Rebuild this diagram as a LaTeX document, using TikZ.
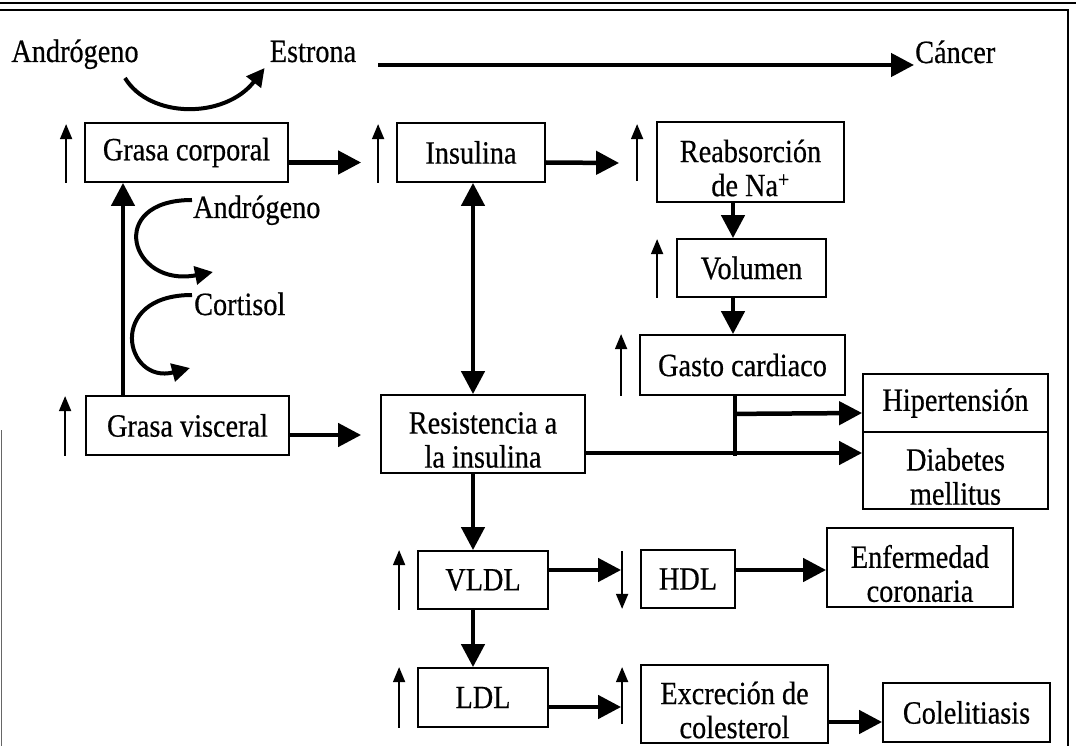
\documentclass[tikz,border=0pt]{standalone}
\usepackage{fontspec}
\setmainfont{Liberation Serif}[FakeStretch=0.87,FakeBold=0.5]
\usetikzlibrary{arrows.meta,calc}
\begin{document}
\begin{tikzpicture}[x=1pt,y=-1pt,
  txt/.style={font=\fontsize{32.5}{34}\selectfont, inner sep=1pt},
  box/.style={draw, line width=1.8pt, inner sep=0pt},
  big/.style={line width=4.5pt, -{Triangle[length=23pt,width=23pt]}},
  bigboth/.style={line width=4.5pt, {Triangle[length=23pt,width=23pt]}-{Triangle[length=23pt,width=23pt]}},
  ind/.style={line width=1.8pt, -{Triangle[length=15pt,width=12pt]}},
  curv/.style={line width=4pt, -{Triangle[length=18pt,width=18pt]}},
  brd/.style={line width=2pt}]
\useasboundingbox (0,0) rectangle (1076,746);
% frame
\draw[line width=1.4pt] (0,3) -- (1076,3);
\draw[brd] (0,10) -- (1068,10) -- (1068,746);
\draw[line width=1pt, black!60] (1,430) -- (1,746);

% top row texts
\node[txt, anchor=base] (andr1) at (75,62) {Andrógeno};
\node[txt, anchor=base] (estr) at (313,62) {Estrona};
\node[txt, anchor=base west] (canc) at (914,63) {Cáncer};
\draw[curv] ($(andr1.base)+(50,16)$) .. controls (150,119) and (225,119) .. ($(estr.base west)+(-4,6)$);
\draw[big] ($(estr.base east)+(21,3)$) -- ($(canc.base west)+(0,2)$);

% single-line boxes
\node[box,txt,minimum width=203pt,minimum height=59pt] (gc) at (186.5,152.5) {Grasa corporal};
\node[box,txt,minimum width=148pt,minimum height=59pt] (ins) at (471,152.5) {Insulina};
\node[box,txt,minimum width=149pt,minimum height=58pt] (vol) at (751.5,268) {Volumen};
\node[box,txt,minimum width=205pt,minimum height=60pt] (gca) at (742.5,365) {Gasto cardiaco};
\node[box,txt,minimum width=185pt,minimum height=58pt] (hip) at (955.5,403) {Hipertensión};
\node[box,txt,minimum width=203pt,minimum height=59pt] (gv) at (187.5,425.5) {Grasa visceral};
\node[box,txt,minimum width=130pt,minimum height=58pt] (vldl) at (483,580) {VLDL};
\node[box,txt,minimum width=130pt,minimum height=59pt] (ldl) at (483,697.5) {LDL};
\node[box,txt,minimum width=94pt,minimum height=58pt] (hdl) at (688,579) {HDL};
\node[box,txt,minimum width=167pt,minimum height=59pt] (col) at (966.5,712.5) {Colelitiasis};

% two-line boxes
\node[box,minimum width=187pt,minimum height=80pt] (rea) at (750.5,162) {};
\node[txt,align=center] (reat) at ($(rea)+(0,6)$) {Reabsorción\\de Na\textsuperscript{+}};
\node[box,minimum width=204pt,minimum height=78pt] (res) at (483,434) {};
\node[txt,align=center] (rest) at ($(res)+(0,6)$) {Resistencia a\\la insulina};
\node[box,minimum width=185pt,minimum height=77pt] (dia) at (955.5,470.5) {};
\node[txt,align=center] (diat) at ($(dia)+(0,6)$) {Diabetes\\mellitus};
\node[box,minimum width=186pt,minimum height=79pt] (enf) at (920,567.5) {};
\node[txt,align=center] (enft) at ($(enf)+(0,6)$) {Enfermedad\\coronaria};
\node[box,minimum width=187pt,minimum height=78pt] (exc) at (734.5,704) {};
\node[txt,align=center] (exct) at ($(exc)+(0,6)$) {Excreción de\\colesterol};

% cortisol / androgeno side labels
\node[txt, anchor=base west] (andr2) at (192,218) {Andrógeno};
\node[txt, anchor=base west] (cort) at (193,315) {Cortisol};
\coordinate (a2e) at (213,272);
\coordinate (coe) at (190,368);
\draw[curv] ($(andr2.base west)+(0,-18)$) .. controls (105,200) and (130,288) .. (a2e);
\draw[curv] ($(cort.base west)+(-1,-20)$) .. controls (105,295) and (125,385) .. (coe);

% indicator arrows
\draw[ind] ($(gc.south west)+(-18,0)$) -- ($(gc.north west)+(-18,2)$);
\draw[ind] ($(ins.south west)+(-18,0)$) -- ($(ins.north west)+(-18,2)$);
\draw[ind] ($(rea.north west)+(-19,60)$) -- ($(rea.north west)+(-19,3)$);
\draw[ind] ($(vol.south west)+(-19,0)$) -- ($(vol.north west)+(-19,1)$);
\draw[ind] ($(gca.south west)+(-18,0)$) -- ($(gca.north west)+(-18,0)$);
\draw[ind] ($(gv.south west)+(-20,0)$) -- ($(gv.north west)+(-20,1)$);
\draw[ind] ($(vldl.south west)+(-18,0)$) -- ($(vldl.north west)+(-18,0)$);
\draw[ind] ($(ldl.south west)+(-18,0)$) -- ($(ldl.north west)+(-18,0)$);
\draw[ind] ($(hdl.north west)+(-18,2)$) -- ($(hdl.south west)+(-18,0)$);
\draw[ind] ($(exc.north west)+(-18,60)$) -- ($(exc.north west)+(-18,3)$);

% main connectors
\draw[big] ($(gc.east)+(0,10)$) -- ($(ins.west)+(-35,10)$);
\draw[big] ($(ins.east)+(0,10)$) -- ($(rea.west)+(-37,1)$);
\draw[bigboth] ($(ins.south)+(2,0)$) -- ($(res.north)+(-10,0)$);
\draw[big] ($(gv.north)+(-64.5,0)$) -- ($(gc.south)+(-63.5,0)$);
\draw[big] ($(gv.east)+(0,9.5)$) -- ($(res.west)+(-19,1)$);
\draw[big] ($(rea.south)+(-17.5,0)$) -- ($(vol.north)+(-18.5,0)$);
\draw[big] ($(vol.south)+(-18.5,0)$) -- ($(gca.north)+(-9.5,0)$);
\draw[line width=4.5pt] ($(gca.south)+(-7.5,0)$) -- ($(gca.south)+(-7.5,60)$);
\draw[big] ($(gca.south)+(-7.5,18)$) -- ($(hip.west)+(0,10)$);
\draw[big] ($(res.east)+(0,19)$) -- ($(dia.west)+(0,-17.5)$);
\draw[big] ($(res.south)+(-10,0)$) -- ($(vldl.north)+(-10,0)$);
\draw[big] ($(vldl.south)+(-10,0)$) -- ($(ldl.north)+(-10,0)$);
\draw[big] ($(vldl.east)+(0,-10)$) -- ($(hdl.west)+(-19,-9)$);
\draw[big] ($(hdl.east)+(0,-9)$) -- ($(enf.west)+(0,2.5)$);
\draw[big] ($(ldl.east)+(0,9.5)$) -- ($(exc.west)+(-19,3)$);
\draw[big] ($(exc.east)+(0,18)$) -- ($(col.west)+(0,9.5)$);
\end{tikzpicture}
\end{document}
